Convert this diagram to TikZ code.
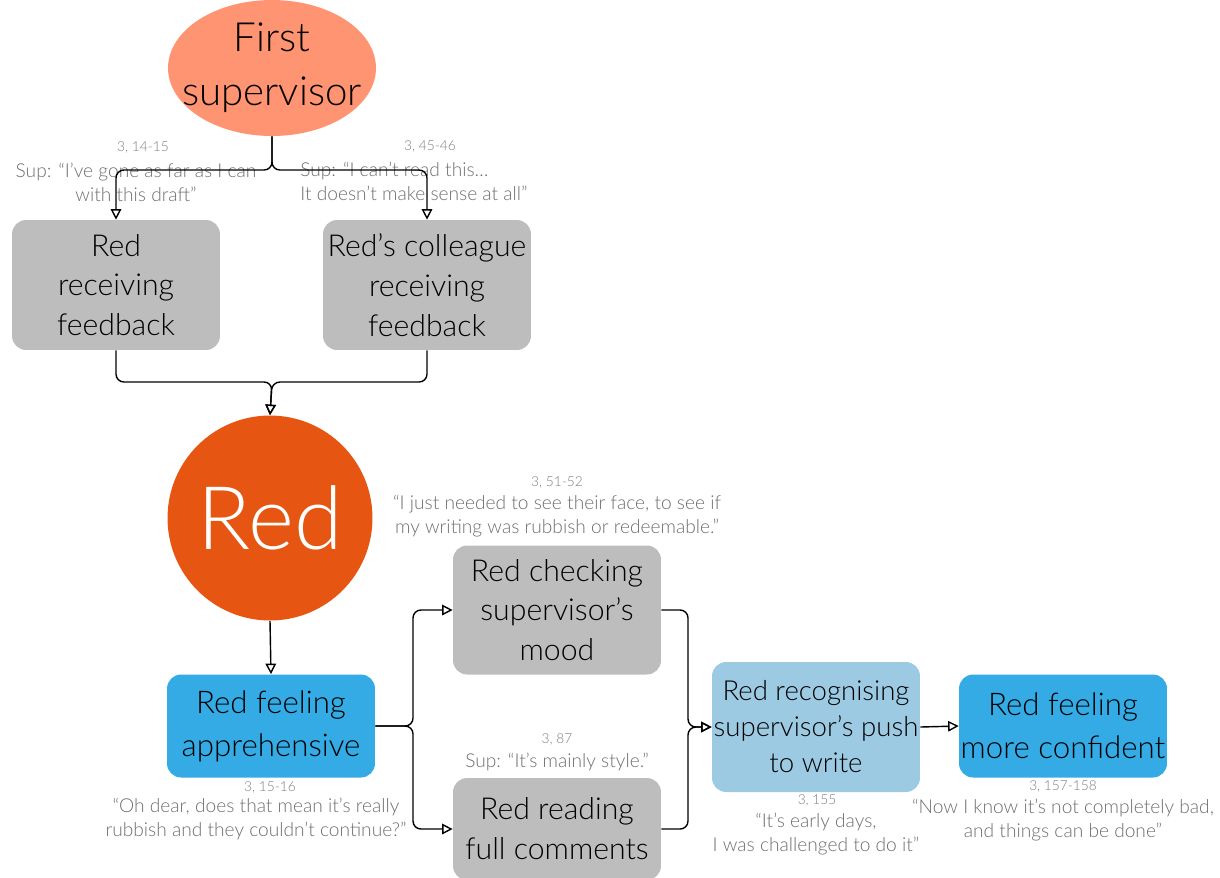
\documentclass[tikz,border=0pt]{standalone}
\usepackage{fontspec}
\setmainfont{Lato}[UprightFont={* Light}]
\usetikzlibrary{arrows.meta, positioning, shapes.geometric}
\definecolor{SupSalmon}{HTML}{FF9473}
\definecolor{RedOrange}{HTML}{E65511}
\definecolor{BoxGrey}{HTML}{BDBDBD}
\definecolor{FeelBlue}{HTML}{35ABE6}
\definecolor{PaleBlue}{HTML}{9DCAE3}
\definecolor{QuoteGrey}{HTML}{6E6E6E}

\begin{document}
\begin{tikzpicture}[
            x=0.02cm, y=-0.02cm,
            box/.style={rectangle, draw=none, minimum width=4.16cm, align=center, inner sep=0pt, rounded corners=8pt, font=\fontsize{17.2}{22.7}\selectfont},
            grey/.style={fill=BoxGrey},
            feel/.style={fill=FeelBlue, font=\fontsize{17.8}{24.5}\selectfont},
            pale/.style={fill=PaleBlue, font=\fontsize{15.7}{20.5}\selectfont},
            quote/.style={align=center, text=QuoteGrey, inner sep=0pt, font=\fontsize{10.9}{13.6}\selectfont},
            ref/.style={text=QuoteGrey!90, inner sep=0pt, font=\fontsize{7.8}{9}\selectfont},
            link/.style={draw, line width=0.8pt, rounded corners=4.5pt, -{Triangle[open, length=6pt, width=6pt]}}
        ]
            \useasboundingbox (0,0) rectangle (1220,877);

            % sources
            \node[ellipse, fill=SupSalmon, minimum width=4.16cm, minimum height=2.72cm, inner xsep=-0.4cm, inner ysep=-0.2cm, align=center, font=\fontsize{22.9}{30.6}\selectfont] (sup) at (272,68) {First\\supervisor};
            \node[box, grey, minimum height=2.6cm] (recv) at (116,285) {Red\\receiving\\feedback};
            \node[box, grey, minimum height=2.6cm] (coll) at (427,285) {Red’s colleague\\receiving\\feedback};
            \node[circle, fill=RedOrange, minimum size=4.1cm, inner sep=0pt, text=white, font=\fontsize{50}{56}\selectfont] (red) at (270,518) {Red};

            % reactions
            \node[box, feel, minimum height=2.06cm] (appr) at (271,726) {Red feeling\\apprehensive};
            \node[box, grey, minimum height=2.58cm] (check) at (557,610) {Red checking\\supervisor’s\\mood};
            \node[box, grey, minimum height=2.04cm] (read) at (557,829) {Red reading\\full comments};
            \node[box, pale, minimum height=2.6cm] (push) at (816,727) {Red recognising\\supervisor’s push\\to write};
            \node[box, feel, minimum height=2.06cm] (conf) at (1063,726) {Red feeling\\more confident};

            % quotes
            \node[ref] (refrecv) at (143,147) {3, 14-15};
            \node[quote] (qrecv) at (136,182) {Sup: “I’ve gone as far as I can\\with this draft”};
            \node[ref] (refcoll) at (430,146) {3, 45-46};
            \node[quote, align=left, anchor=west] (qcoll) at (300,181) {Sup: “I can’t read this…\\It doesn’t make sense at all”};
            \node[ref] (refcheck) at (557,482) {3, 51-52};
            \node[quote] (qcheck) at (557,516) {“I just needed to see their face, to see if\\my writing was rubbish or redeemable.”};
            \node[ref] (refread) at (557,739) {3, 87};
            \node[quote] (qread) at (557,762) {Sup: “It’s mainly style.”};
            \node[ref] (refappr) at (270,787) {3, 15-16};
            \node[quote] (qappr) at (256,819) {“Oh dear, does that mean it’s really\\rubbish and they couldn’t continue?”};
            \node[ref] (refpush) at (817,800) {3, 155};
            \node[quote] (qpush) at (816,834) {“It’s early days,\\I was challenged to do it”};
            \node[ref] (refconf) at (1063,786) {3, 157-158};
            \node[quote] (qconf) at (1063,820) {“Now I know it’s not completely bad,\\and things can be done”};

            % connectors
            \coordinate (split) at (272,170);
            \coordinate (merge) at (272,382);
            \coordinate (fork) at (413,726);
            \coordinate (gather) at (688,727);
            \draw[link] (sup.south) -- (split) -| (recv.north);
            \draw[link] (sup.south) -- (split) -| (coll.north);
            \draw[link] (recv.south) |- (merge) -- (red.north);
            \draw[link] (coll.south) |- (merge) -- (red.north);
            \draw[link] (red.south) -- (appr.north);
            \draw[link] (appr.east) -- (fork) |- (check.west);
            \draw[link] (appr.east) -- (fork) |- (read.west);
            \draw[link] (check.east) -| (gather) -- (push.west);
            \draw[link] (read.east) -| (gather) -- (push.west);
            \draw[link] (push.east) -- (conf.west);
        \end{tikzpicture}
\end{document}
